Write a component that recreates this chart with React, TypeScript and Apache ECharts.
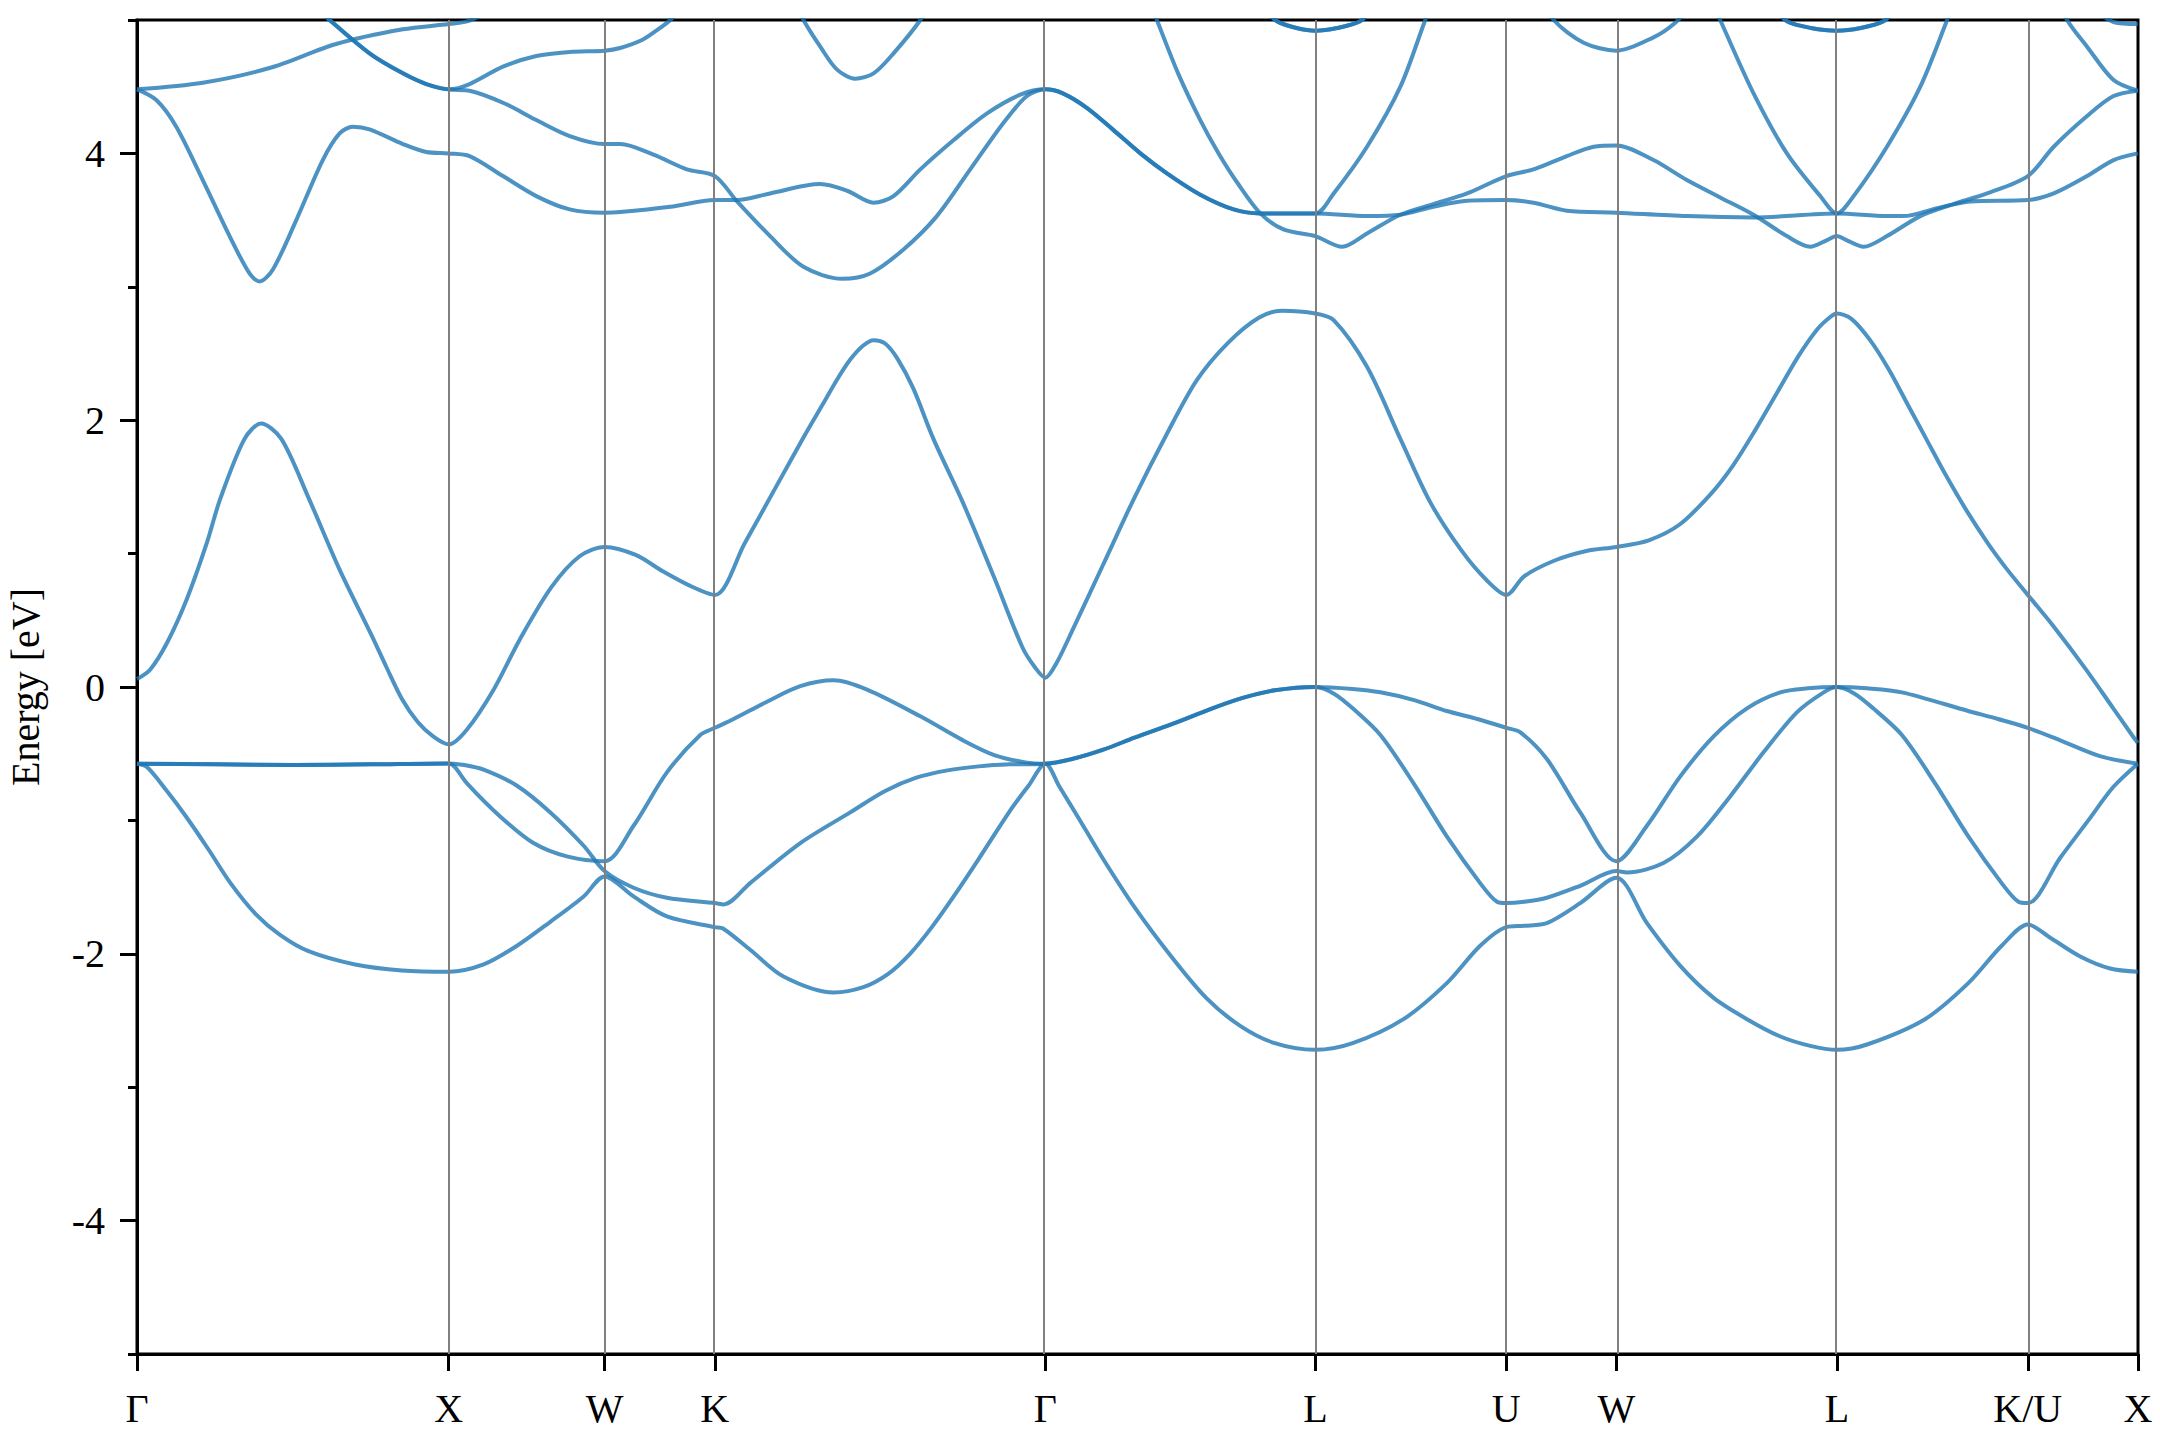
import React, { useEffect, useRef } from 'react';
import * as echarts from 'echarts';

type P = [number, number];

// High-symmetry path (k in units of 2π/a)
const kPoints = [0, 1, 1.5, 1.8536, 2.9142, 3.7803, 4.3927, 4.7463, 5.4534, 6.0658, 6.4194];
const kLabels = ['Γ', 'X', 'W', 'K', 'Γ', 'L', 'U', 'W', 'L', 'K/U', 'X'];
const yMajorTicks = [-4, -2, 0, 2, 4];
const yMinorTicks = [-5, -3, -1, 1, 3, 5];

const valenceLow: P[] = [
  [0, -0.575], [0.032, -0.6], [0.096, -0.78], [0.16, -0.98], [0.23, -1.22], [0.3, -1.47], [0.38, -1.7], [0.46, -1.86], [0.55, -1.98], [0.7, -2.08], [0.85, -2.125], [1.0, -2.135],
  [1.112, -2.08], [1.219, -1.94], [1.326, -1.76], [1.433, -1.57], [1.5, -1.42],
  [1.593, -1.57], [1.7, -1.72], [1.854, -1.8], [1.88, -1.81], [1.967, -1.97], [2.074, -2.17], [2.235, -2.29], [2.33, -2.25], [2.41, -2.15], [2.48, -2.0], [2.55, -1.8], [2.62, -1.57], [2.7, -1.29], [2.8, -0.93], [2.86, -0.74], [2.914, -0.575],
  [2.96, -0.75], [3.02, -0.98], [3.097, -1.28], [3.2, -1.65], [3.318, -2.02], [3.43, -2.33], [3.539, -2.54], [3.65, -2.67], [3.78, -2.72],
  [3.9, -2.67], [4.063, -2.49], [4.202, -2.22], [4.309, -1.94], [4.393, -1.8],
  [4.45, -1.79], [4.523, -1.77], [4.63, -1.62], [4.746, -1.43],
  [4.844, -1.77], [4.951, -2.09], [5.058, -2.33], [5.165, -2.49], [5.272, -2.62], [5.368, -2.69], [5.453, -2.72],
  [5.55, -2.68], [5.736, -2.49], [5.875, -2.22], [5.982, -1.94], [6.066, -1.78],
  [6.138, -1.88], [6.234, -2.02], [6.33, -2.11], [6.419, -2.135],
];

const valenceTopA: P[] = [
  [0, -0.575], [0.25, -0.58], [0.5, -0.585], [0.75, -0.58], [1.0, -0.573],
  [1.02, -0.6], [1.058, -0.72], [1.165, -0.97], [1.272, -1.17], [1.379, -1.27], [1.5, -1.306],
  [1.593, -1.04], [1.7, -0.64], [1.807, -0.36], [1.854, -0.306],
  [1.914, -0.24], [2.021, -0.11], [2.128, 0.006], [2.235, 0.05], [2.342, -0.02], [2.513, -0.22], [2.65, -0.4], [2.75, -0.51], [2.85, -0.565], [2.914, -0.575],
  [3.0, -0.54], [3.1, -0.47], [3.2, -0.38], [3.318, -0.28], [3.45, -0.16], [3.55, -0.08], [3.65, -0.025], [3.78, 0],
  [3.9, -0.015], [3.989, -0.04], [4.1, -0.1], [4.202, -0.18], [4.3, -0.24], [4.393, -0.306],
  [4.438, -0.34], [4.523, -0.54], [4.63, -0.94], [4.746, -1.306],
  [4.844, -1.04], [4.951, -0.67], [5.058, -0.37], [5.165, -0.16], [5.272, -0.04], [5.36, -0.01], [5.453, 0],
  [5.55, -0.01], [5.662, -0.04], [5.875, -0.18], [5.97, -0.24], [6.066, -0.306],
  [6.17, -0.4], [6.3, -0.52], [6.419, -0.575],
];

const valenceTopB: P[] = [
  [0, -0.575], [0.25, -0.58], [0.5, -0.585], [0.75, -0.58], [1.0, -0.573],
  [1.05, -0.585], [1.112, -0.62], [1.219, -0.74], [1.326, -0.94], [1.433, -1.19], [1.5, -1.38],
  [1.593, -1.505], [1.7, -1.58], [1.854, -1.62], [1.882, -1.63], [1.967, -1.47], [2.128, -1.17], [2.288, -0.94], [2.4, -0.78], [2.5, -0.68], [2.6, -0.625], [2.7, -0.595], [2.8, -0.58], [2.914, -0.575],
  [3.0, -0.54], [3.1, -0.47], [3.2, -0.38], [3.318, -0.28], [3.45, -0.16], [3.55, -0.08], [3.65, -0.025], [3.78, 0],
  [3.84, -0.05], [3.9, -0.16], [3.989, -0.36], [4.095, -0.72], [4.202, -1.12], [4.309, -1.47], [4.363, -1.61], [4.393, -1.62],
  [4.45, -1.61], [4.523, -1.58], [4.63, -1.49], [4.746, -1.38],
  [4.78, -1.39], [4.897, -1.32], [5.005, -1.12], [5.111, -0.82], [5.218, -0.49], [5.325, -0.19], [5.411, -0.04], [5.453, 0],
  [5.51, -0.05], [5.57, -0.16], [5.662, -0.36], [5.768, -0.72], [5.875, -1.12], [5.982, -1.47], [6.036, -1.61], [6.066, -1.62],
  [6.17, -1.28], [6.26, -1.0], [6.34, -0.75], [6.419, -0.575],
];

const conduction1: P[] = [
  [0, 0.06], [0.042, 0.13], [0.096, 0.33], [0.16, 0.66], [0.224, 1.08], [0.267, 1.41], [0.345, 1.86], [0.398, 1.975], [0.463, 1.86], [0.55, 1.42], [0.65, 0.88], [0.75, 0.4], [0.8, 0.15], [0.85, -0.09], [0.9, -0.26], [0.95, -0.37], [1.0, -0.43],
  [1.058, -0.32], [1.144, -0.02], [1.229, 0.36], [1.33, 0.75], [1.42, 0.98], [1.5, 1.05],
  [1.6, 0.99], [1.685, 0.87], [1.773, 0.76], [1.854, 0.69],
  [1.95, 1.08], [2.05, 1.5], [2.138, 1.87], [2.2, 2.12], [2.25, 2.32], [2.29, 2.46], [2.33, 2.56], [2.363, 2.6], [2.4, 2.575], [2.44, 2.46], [2.49, 2.24], [2.555, 1.86], [2.65, 1.38], [2.75, 0.82], [2.84, 0.3], [2.88, 0.15], [2.914, 0.07],
  [2.95, 0.18], [3.0, 0.42], [3.1, 0.92], [3.2, 1.42], [3.3, 1.88], [3.4, 2.3], [3.5, 2.58], [3.6, 2.77], [3.673, 2.82], [3.78, 2.8],
  [3.839, 2.75], [3.946, 2.4], [4.053, 1.86], [4.15, 1.38], [4.25, 1.02], [4.33, 0.8], [4.393, 0.69],
  [4.45, 0.83], [4.55, 0.95], [4.65, 1.02], [4.746, 1.05],
  [4.85, 1.1], [4.95, 1.22], [5.05, 1.45], [5.12, 1.66], [5.19, 1.92], [5.26, 2.2], [5.33, 2.48], [5.39, 2.68], [5.43, 2.77], [5.453, 2.8],
  [5.5, 2.76], [5.56, 2.6], [5.62, 2.38], [5.68, 2.12], [5.74, 1.86], [5.8, 1.6], [5.87, 1.32], [5.94, 1.07], [6.0, 0.88], [6.066, 0.69],
  [6.15, 0.45], [6.25, 0.14], [6.34, -0.16], [6.4, -0.36], [6.419, -0.42],
];

const upper1: P[] = [[0, 4.48], [0.211, 4.53], [0.425, 4.64], [0.639, 4.82], [0.853, 4.93], [1.0, 4.97], [1.067, 4.995], [1.2, 5.15]];

const upper2: P[] = [
  [0, 4.48], [0.062, 4.4], [0.126, 4.2], [0.211, 3.8], [0.297, 3.38], [0.361, 3.1], [0.393, 3.04], [0.436, 3.13], [0.511, 3.5], [0.596, 3.95], [0.65, 4.15], [0.693, 4.2], [0.746, 4.18], [0.853, 4.07], [0.928, 4.01], [1.0, 4.0],
  [1.067, 3.98], [1.174, 3.83], [1.281, 3.68], [1.388, 3.58], [1.5, 3.555],
  [1.55, 3.56], [1.711, 3.6], [1.854, 3.65], [1.925, 3.65], [2.031, 3.7], [2.192, 3.77], [2.278, 3.72], [2.363, 3.63], [2.427, 3.68], [2.513, 3.88], [2.62, 4.1], [2.727, 4.3], [2.834, 4.44], [2.914, 4.48],
  [2.97, 4.45], [3.048, 4.34], [3.13, 4.18], [3.219, 4.0], [3.304, 3.85], [3.411, 3.69], [3.518, 3.58], [3.604, 3.55], [3.78, 3.55],
  [3.946, 3.53], [4.053, 3.54], [4.159, 3.6], [4.267, 3.645], [4.393, 3.65],
  [4.48, 3.63], [4.587, 3.57], [4.746, 3.555],
  [4.972, 3.53], [5.186, 3.52], [5.453, 3.55],
  [5.614, 3.53], [5.667, 3.53], [5.775, 3.59], [5.881, 3.64], [6.066, 3.65],
  [6.149, 3.7], [6.256, 3.83], [6.341, 3.95], [6.419, 4.0],
];

const upper3: P[] = [
  [0.55, 5.15], [0.618, 5.0], [0.746, 4.75], [0.853, 4.6], [0.928, 4.52], [1.0, 4.48],
  [1.067, 4.52], [1.174, 4.65], [1.281, 4.73], [1.388, 4.76], [1.5, 4.77],
  [1.55, 4.79], [1.62, 4.85], [1.666, 4.92], [1.711, 5.0], [1.75, 5.1],
];

const upper4: P[] = [
  [0.55, 5.15], [0.618, 5.0], [0.746, 4.75], [0.853, 4.6], [0.928, 4.52], [1.0, 4.48],
  [1.067, 4.47], [1.174, 4.38], [1.281, 4.25], [1.388, 4.13], [1.5, 4.07],
  [1.55, 4.07], [1.657, 3.99], [1.764, 3.88], [1.854, 3.83],
  [1.925, 3.64], [2.031, 3.38], [2.138, 3.15], [2.262, 3.06], [2.352, 3.1], [2.459, 3.28], [2.566, 3.53], [2.673, 3.88], [2.78, 4.23], [2.855, 4.43], [2.914, 4.48],
  [2.97, 4.45], [3.048, 4.34], [3.13, 4.18], [3.219, 4.0], [3.304, 3.85], [3.411, 3.69], [3.518, 3.58], [3.604, 3.55], [3.78, 3.55],
  [3.839, 3.7], [3.946, 4.05], [4.053, 4.5], [4.133, 5.0], [4.16, 5.15],
];

const upper5: P[] = [[2.12, 5.1], [2.138, 5.0], [2.192, 4.8], [2.245, 4.63], [2.304, 4.56], [2.363, 4.6], [2.427, 4.75], [2.513, 5.0], [2.53, 5.1]];

const upper6: P[] = [
  [3.24, 5.2], [3.272, 5.0], [3.34, 4.6], [3.411, 4.25], [3.47, 4.0], [3.53, 3.78], [3.604, 3.55], [3.678, 3.43], [3.78, 3.38],
  [3.866, 3.3], [3.946, 3.4], [4.053, 3.54], [4.159, 3.62], [4.267, 3.7], [4.393, 3.83],
  [4.48, 3.88], [4.587, 3.98], [4.673, 4.05], [4.746, 4.06],
  [4.865, 3.95], [4.972, 3.8], [5.079, 3.67], [5.186, 3.54], [5.293, 3.38], [5.368, 3.3], [5.422, 3.35], [5.453, 3.38],
  [5.484, 3.35], [5.539, 3.3], [5.614, 3.38], [5.721, 3.53], [5.828, 3.62], [5.935, 3.7], [6.066, 3.83],
  [6.149, 4.05], [6.256, 4.28], [6.341, 4.43], [6.419, 4.47],
];

const upper7: P[] = [[3.62, 5.08], [3.657, 4.99], [3.72, 4.94], [3.78, 4.92], [3.85, 4.94], [3.924, 4.99], [3.96, 5.08]];
const upper8: P[] = [[4.5, 5.2], [4.545, 5.0], [4.641, 4.83], [4.746, 4.77], [4.865, 4.87], [4.935, 4.98], [4.98, 5.1]];
const upper9: P[] = [[5.05, 5.15], [5.079, 5.0], [5.186, 4.45], [5.293, 4.0], [5.4, 3.68], [5.453, 3.55], [5.507, 3.68], [5.614, 4.05], [5.721, 4.5], [5.807, 5.0], [5.83, 5.15]];
const upper10: P[] = [[5.26, 5.08], [5.293, 4.99], [5.37, 4.94], [5.453, 4.92], [5.53, 4.94], [5.603, 4.99], [5.64, 5.08]];
const upper11: P[] = [[6.17, 5.15], [6.192, 5.0], [6.256, 4.8], [6.341, 4.55], [6.419, 4.47]];
const upper12: P[] = [[6.28, 5.08], [6.341, 4.985], [6.419, 4.97]];

const bands: P[][] = [
  valenceLow, valenceTopA, valenceTopB, conduction1,
  upper1, upper2, upper3, upper4, upper5, upper6, upper7, upper7, upper8, upper9, upper10, upper10, upper11, upper12,
];

const FONT = "'Liberation Serif', 'Times New Roman', serif";

function labelFor(v: number): string {
  let best = 0;
  for (let i = 1; i < kPoints.length; i++) {
    if (Math.abs(kPoints[i] - v) < Math.abs(kPoints[best] - v)) best = i;
  }
  return kLabels[best];
}

export default function App() {
  const ref = useRef<HTMLDivElement>(null);
  useEffect(() => {
    if (!ref.current) return;
    const chart = echarts.init(ref.current, undefined, { renderer: 'svg' });
    const kMax = kPoints[kPoints.length - 1];
    const bandSeries = bands.map((b) => ({
      type: 'line',
      data: b,
      showSymbol: false,
      symbol: 'none',
      smooth: 0.3,
      clip: true,
      silent: true,
      z: 3,
      lineStyle: { color: '#1f77b4', width: 4, opacity: 0.8 },
      emphasis: { disabled: true },
    }));
    const option: any = {
      animation: false,
      backgroundColor: '#ffffff',
      grid: {
        left: 137, right: 22, top: 20, bottom: 86,
        containLabel: false, outerBoundsMode: 'none',
        show: true, borderColor: '#000', borderWidth: 3, backgroundColor: 'transparent',
      },
      xAxis: {
        type: 'value', min: 0, max: kMax,
        axisLine: { show: true, onZero: false, lineStyle: { color: '#000', width: 3 } },
        axisTick: { show: true, customValues: kPoints, length: 17, inside: false, lineStyle: { color: '#000', width: 3 } },
        axisLabel: { show: true, customValues: kPoints, formatter: (v: number) => labelFor(v), margin: 34, fontSize: 40, fontFamily: FONT, color: '#000' },
        splitLine: { show: false },
      },
      yAxis: [
        {
          type: 'value', min: -5, max: 5, position: 'left',
          name: 'Energy [eV]', nameLocation: 'middle', nameGap: 92, nameRotate: 90,
          nameTextStyle: { fontSize: 40, fontFamily: FONT, color: '#000' },
          axisLine: { show: true, onZero: false, lineStyle: { color: '#000', width: 3 } },
          axisTick: { show: true, customValues: yMajorTicks, length: 17, inside: false, lineStyle: { color: '#000', width: 3 } },
          axisLabel: { show: true, customValues: yMajorTicks, margin: 32, fontSize: 40, fontFamily: FONT, color: '#000' },
          splitLine: { show: false },
        },
        {
          type: 'value', min: -5, max: 5, position: 'left',
          axisLine: { show: false },
          axisTick: { show: true, customValues: yMinorTicks, length: 9, inside: false, lineStyle: { color: '#000', width: 3 } },
          axisLabel: { show: false },
          splitLine: { show: false },
        },
      ],
      series: [
        {
          type: 'line',
          data: [],
          silent: true,
          z: 1,
          markLine: {
            silent: true,
            symbol: ['none', 'none'],
            label: { show: false },
            animation: false,
            lineStyle: { color: '#808080', width: 2, type: 'solid', opacity: 1 },
            emphasis: { disabled: true },
            data: kPoints.slice(1, kPoints.length - 1).map((k) => ({ xAxis: k })),
          },
        },
        ...bandSeries,
      ],
    };
    chart.setOption(option);
    return () => chart.dispose();
  }, []);
  return <div ref={ref} style={{ position: 'fixed', left: 0, top: 0, width: 2160, height: 1440 }} />;
}
